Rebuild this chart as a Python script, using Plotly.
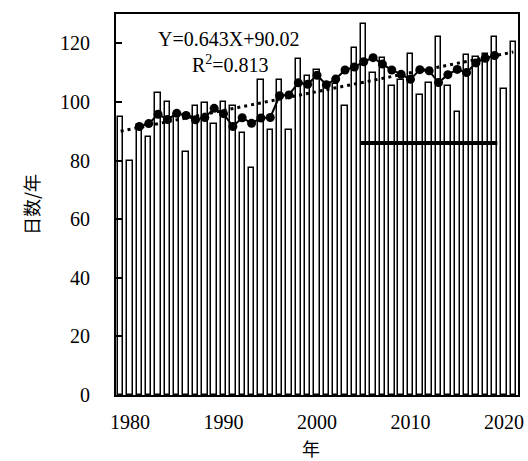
import numpy as np
import pandas as pd
import plotly.graph_objects as go

# Annual day counts, 1979-2021
years = list(range(1979, 2022))
days = [
    95, 80, 92, 88, 103, 100, 96, 83, 98.5, 99.5,
    92.5, 100, 98.5, 89.5, 77.5, 107.5, 90.5, 107.5, 90.5, 114.5,
    109, 111, 105, 106, 98.5, 118.5, 126.5, 110, 115, 105.5,
    107.5, 116.5, 102.5, 106.5, 122, 105.5, 96.5, 116, 115.5, 116.5,
    122, 104.5, 120.5,
]

# Linear trend as stated on the chart (X = year index, 1979 -> 0)
trend_slope = 0.643
trend_intercept = 90.02

# Reference segment
segment_years = [2005, 2019]
segment_level = 86

# 5-year centred moving average of the annual series
ma5 = pd.Series(days, index=years).rolling(5, center=True).mean().dropna()

trend_x = np.array([years[0], years[-1]], dtype=float)
trend_y = trend_slope * (trend_x - years[0]) + trend_intercept

bar_width = 0.58
serif = "Liberation Serif"
cjk = "Noto Sans CJK SC"

fig = go.Figure()

fig.add_trace(go.Bar(
    x=years, y=days, width=bar_width,
    marker=dict(color="white", line=dict(color="black", width=1.5)),
    showlegend=False,
))

fig.add_trace(go.Scatter(
    x=trend_x, y=trend_y, mode="lines",
    line=dict(color="black", width=3, dash="3px,4px"),
    showlegend=False,
))

fig.add_trace(go.Scatter(
    x=ma5.index, y=ma5.values, mode="lines+markers",
    line=dict(color="black", width=2),
    marker=dict(color="black", size=9),
    showlegend=False,
))

fig.add_trace(go.Scatter(
    x=[segment_years[0] - bar_width / 2, segment_years[1] + bar_width / 2],
    y=[segment_level, segment_level], mode="lines",
    line=dict(color="black", width=4),
    showlegend=False,
))

fig.add_annotation(
    x=0.28, y=0.935, xref="paper", yref="paper",
    xanchor="center", yanchor="middle",
    text=f"Y={trend_slope}X+{trend_intercept:.2f}", showarrow=False,
    font=dict(family=serif, size=20, color="black"),
)
fig.add_annotation(
    x=0.285, y=0.87, xref="paper", yref="paper",
    xanchor="center", yanchor="middle",
    text="R<sup>2</sup>=0.813", showarrow=False,
    font=dict(family=serif, size=20, color="black"),
)

# x-axis title, placed below the tick labels
fig.add_annotation(
    x=0.485, y=-0.138, xref="paper", yref="paper",
    xanchor="center", yanchor="middle",
    text="年", showarrow=False,
    font=dict(family=cjk, size=18, color="black"),
)

fig.update_layout(
    width=528, height=461,
    margin=dict(l=116, r=10, t=14, b=66),
    paper_bgcolor="white", plot_bgcolor="white",
    bargap=0,
    font=dict(family=serif, size=20, color="black"),
)

fig.update_xaxes(
    range=[1978.5, 2021.5],
    tickvals=[1980, 1990, 2000, 2010, 2020],
    ticks="", showgrid=False, zeroline=False,
    showline=True, linecolor="black", linewidth=2, mirror=True,
    ticklabelstandoff=8, automargin=False,
)
fig.update_yaxes(
    range=[0, 130],
    tickvals=[0, 20, 40, 60, 80, 100, 120],
    ticks="inside", ticklen=6, tickwidth=1.5, tickcolor="black",
    showgrid=False, zeroline=False,
    showline=True, linecolor="black", linewidth=2, mirror=True,
    ticklabelstandoff=20, automargin=False,
    title=dict(text="日数/年", font=dict(family=cjk, size=18), standoff=16),
)

fig.write_html("out.html")
